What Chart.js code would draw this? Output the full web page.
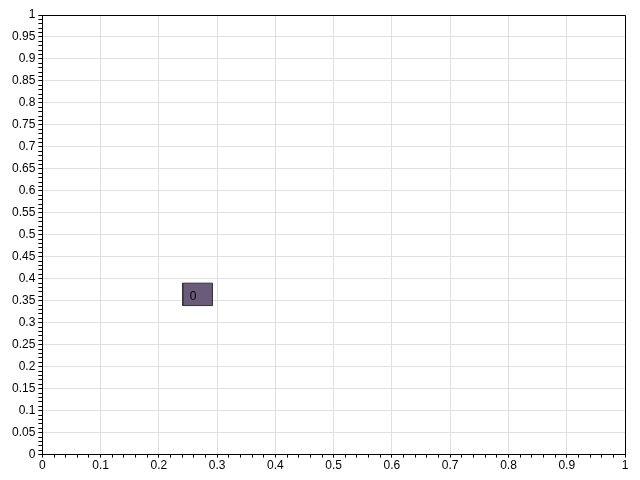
<!DOCTYPE html>
<html>
<head>
<meta charset="utf-8">
<script src="https://cdn.jsdelivr.net/npm/chart.js@4/dist/chart.umd.min.js"></script>
<style>
html,body{margin:0;padding:0;background:#fff;}
#wrap{width:640px;height:480px;}
</style>
</head>
<body>
<div id="wrap"><canvas id="c" width="640" height="480"></canvas></div>
<script>
// Data
const rectLabels = ["0"];
const rectX0 = [0.241];
const rectX1 = [0.292];
const rectY0 = [0.339];
const rectY1 = [0.39];
const xTickStep = 0.1;
const yTickStep = 0.05;

function isMajor(v, step){ const r = v/step; return Math.abs(r - Math.round(r)) < 1e-6; }
function fmt(v){ return String(+v.toFixed(2)); }

const datasets = rectLabels.map((lab, i) => ({
  label: lab,
  data: [
    {x: rectX0[i], y: rectY0[i]},
    {x: rectX1[i], y: rectY0[i]},
    {x: rectX1[i], y: rectY1[i]},
    {x: rectX0[i], y: rectY1[i]},
    {x: rectX0[i], y: rectY0[i]}
  ],
  showLine: true,
  fill: 'shape',
  backgroundColor: '#6b5b7b',
  borderColor: '#333333',
  borderWidth: 1,
  pointRadius: 0,
  tension: 0
}));

const borderPlugin = {
  id: 'frame',
  afterDatasetsDraw(chart){
    const {ctx, scales} = chart;
    ctx.save();
    ctx.font = '12px "Liberation Sans", Arial, sans-serif';
    ctx.fillStyle = '#000';
    ctx.textAlign = 'left';
    ctx.textBaseline = 'middle';
    rectLabels.forEach((lab, i) => {
      const px = scales.x.getPixelForValue(rectX0[i]);
      const py = scales.y.getPixelForValue((rectY0[i] + rectY1[i]) / 2);
      ctx.fillText(lab, px + 7, py + 2);
    });
    ctx.restore();
  },
  afterDraw(chart){
    const {ctx, chartArea: a} = chart;
    ctx.save();
    ctx.strokeStyle = '#000';
    ctx.lineWidth = 1;
    ctx.beginPath();
    ctx.moveTo(a.left, a.top + 0.5);
    ctx.lineTo(a.right + 0.5, a.top + 0.5);
    ctx.lineTo(a.right + 0.5, a.bottom);
    ctx.stroke();
    ctx.restore();
  }
};

new Chart(document.getElementById('c'), {
  type: 'scatter',
  data: { datasets },
  options: {
    responsive: false,
    animation: false,
    devicePixelRatio: 1,
    layout: { padding: { top: 15, right: 15, bottom: 6, left: 9 } },
    plugins: { legend: { display: false }, tooltip: { enabled: false } },
    scales: {
      x: {
        type: 'linear', min: 0, max: 1,
        border: { color: '#000', width: 1 },
        grid: {
          color: c => isMajor(c.tick.value, xTickStep) ? '#e0e0e0' : 'rgba(0,0,0,0)',
          tickColor: '#000', tickLength: 3, lineWidth: 1
        },
        ticks: {
          stepSize: 0.02, autoSkip: false, maxRotation: 0, padding: 1,
          color: '#000', font: { family: '"Liberation Sans", Arial, sans-serif', size: 12 },
          callback: v => isMajor(v, xTickStep) ? fmt(v) : ''
        }
      },
      y: {
        type: 'linear', min: 0, max: 1,
        border: { color: '#000', width: 1 },
        grid: {
          color: c => isMajor(c.tick.value, yTickStep) ? '#e0e0e0' : 'rgba(0,0,0,0)',
          tickColor: '#000', tickLength: 4, lineWidth: 1
        },
        ticks: {
          stepSize: 0.01, autoSkip: false, padding: 3,
          color: '#000', font: { family: '"Liberation Sans", Arial, sans-serif', size: 12 },
          callback: v => isMajor(v, yTickStep) ? fmt(v) : ''
        }
      }
    }
  },
  plugins: [borderPlugin]
});
</script>
</body>
</html>
